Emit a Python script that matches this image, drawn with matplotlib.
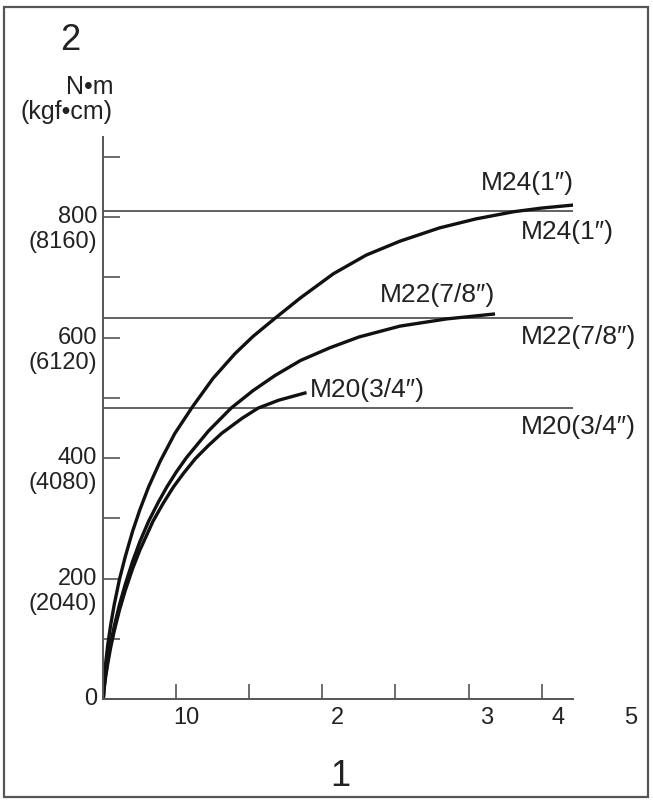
import matplotlib
matplotlib.use('Agg')
import matplotlib.pyplot as plt
from matplotlib.transforms import offset_copy
from matplotlib.patches import Rectangle

plt.rcParams['font.family'] = ['Liberation Sans', 'DejaVu Sans']

# ---- data ----
y_ticks = [0, 100, 200, 300, 400, 500, 600, 700, 800, 900]
y_label_vals = [0, 200, 400, 600, 800]
y_label_nm = ['0', '200', '400', '600', '800']
y_label_kgf = ['', '(2040)', '(4080)', '(6120)', '(8160)']
x_ticks = [1, 2, 3, 4, 5, 6]
x_label_pos = [1.14, 3.21, 5.25, 6.23, 7.22]
x_label_text = ['10', '2', '3', '4', '5']

limit_names = ['M24(1″)', 'M22(7/8″)', 'M20(3/4″)']
limit_values = [810, 632, 483]

m24_x = [0, 0.01, 0.03, 0.06, 0.1, 0.15, 0.22, 0.3, 0.4, 0.5, 0.62, 0.78, 0.98, 1.22, 1.5,
         1.8, 2.05, 2.35, 2.7, 3.15, 3.6, 4.06, 4.6, 5.1, 5.62, 6.0, 6.43]
m24_y = [0, 28, 57, 89, 122, 157, 198, 236, 278, 314, 352, 395, 441, 485, 532,
         573, 602, 632, 666, 706, 737, 760, 782, 797, 809, 815, 820]
m22_x = [0, 0.01, 0.03, 0.06, 0.1, 0.15, 0.22, 0.3, 0.4, 0.5, 0.62, 0.75, 0.87, 1.0, 1.14,
         1.44, 1.75, 2.05, 2.35, 2.7, 3.1, 3.5, 4.06, 4.7, 5.34]
m22_y = [0, 18, 39, 64, 92, 121, 156, 190, 228, 261, 295, 326, 352, 377, 401,
         445, 483, 512, 537, 562, 583, 601, 619, 631, 639]
m20_x = [0, 0.01, 0.03, 0.06, 0.1, 0.15, 0.22, 0.3, 0.4, 0.5, 0.68, 0.82, 0.96, 1.1, 1.26,
         1.44, 1.62, 1.9, 2.12, 2.4, 2.76]
m20_y = [0, 15, 35, 58, 85, 113, 147, 180, 216, 247, 295, 325, 352, 375, 399,
         421, 441, 466, 483, 496, 508]

curve_label_pos = [(5.80, 856), (4.58, 671), (3.61, 513)]
line_label_pos = [(6.35, 775), (6.50, 601), (6.50, 451)]

X_MAX = 6.43
Y_MAX = 933

# ---- figure ----
W, H = 653, 801
fig = plt.figure(figsize=(W / 100, H / 100), dpi=100)
ax = fig.add_axes([103.3 / W, 1 - 699 / H, (573 - 103.3) / W, (699 - 137) / H])
ax.set_xlim(0, X_MAX)
ax.set_ylim(0, Y_MAX)

gray = '#555555'
txt = '#222222'
for s in ['top', 'right']:
    ax.spines[s].set_visible(False)
for s in ['left', 'bottom']:
    ax.spines[s].set_color(gray)
    ax.spines[s].set_linewidth(1.4)

ax.set_yticks(y_ticks)
ax.set_xticks(x_ticks)
ax.tick_params(axis='y', direction='in', length=12, width=1.2, color=gray, labelleft=False)
ax.tick_params(axis='x', direction='in', length=11, width=1.2, color=gray, labelbottom=False)

# limit lines
for v in limit_values:
    ax.hlines(v, 0, X_MAX, color=gray, lw=1.3)

# curves
for xs, ys in [(m24_x, m24_y), (m22_x, m22_y), (m20_x, m20_y)]:
    ax.plot(xs, ys, color='#111111', lw=2.4, solid_joinstyle='round')

fs_lbl = 19
for (x, y), name in zip(curve_label_pos, limit_names):
    ax.text(x, y, name, ha='center', va='center', fontsize=fs_lbl, color=txt, clip_on=False)
for (x, y), name in zip(line_label_pos, limit_names):
    ax.text(x, y, name, ha='center', va='center', fontsize=fs_lbl, color=txt, clip_on=False)

# y labels
fs_tick = 17
t1 = offset_copy(ax.get_yaxis_transform(), fig, x=-6, y=0, units='dots')
t2 = offset_copy(ax.get_yaxis_transform(), fig, x=-6, y=-25, units='dots')
for v, a, b in zip(y_label_vals, y_label_nm, y_label_kgf):
    ax.text(0, v, a, transform=t1, ha='right', va='center', fontsize=fs_tick, color=txt, clip_on=False)
    if b:
        ax.text(0, v, b, transform=t2, ha='right', va='center', fontsize=fs_tick, color=txt, clip_on=False)

# x labels
tx = offset_copy(ax.get_xaxis_transform(), fig, x=0, y=-19, units='dots')
for p, t in zip(x_label_pos, x_label_text):
    ax.text(p, 0, t, transform=tx, ha='center', va='center', fontsize=fs_tick, color=txt, clip_on=False)

# unit labels and panel numbers
fig.text(113 / W, 1 - 87 / H, 'N•m', ha='right', va='center', fontsize=18, color=txt)
fig.text(113 / W, 1 - 112 / H, '(kgf•cm)', ha='right', va='center', fontsize=18, color=txt)
fig.text(70 / W, 1 - 40 / H, '2', ha='center', va='center', fontsize=26, color=txt)
fig.text(340 / W, 1 - 777 / H, '1', ha='center', va='center', fontsize=26, color=txt)

# outer frame
fig.patches.append(Rectangle((4 / W, 4 / H), (648 - 4) / W, (797 - 7) / H, transform=fig.transFigure,
                             fill=False, edgecolor=gray, lw=1.6))

fig.savefig('out.png', dpi=100)
